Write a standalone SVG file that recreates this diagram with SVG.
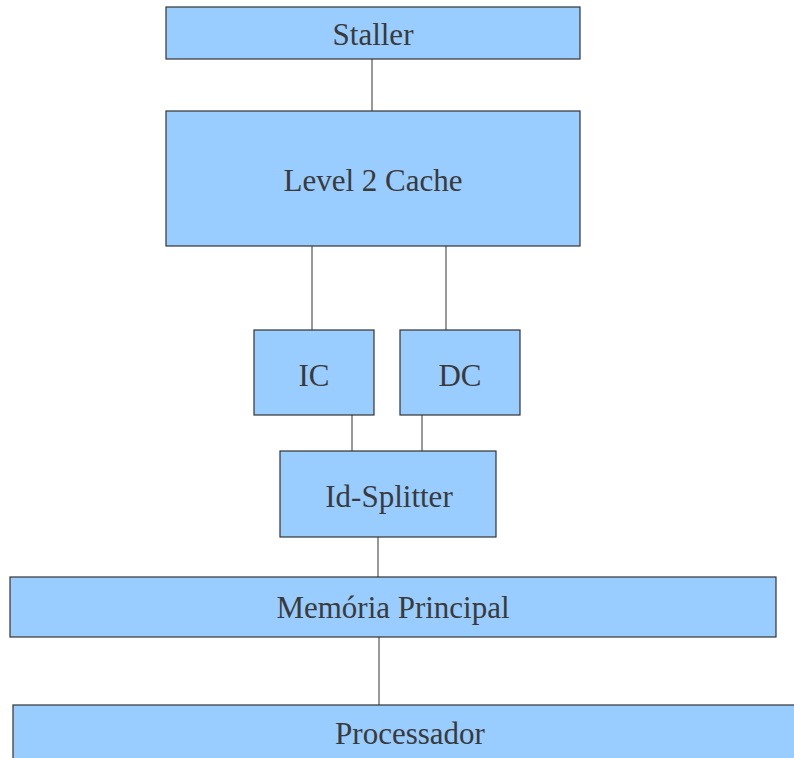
<svg xmlns="http://www.w3.org/2000/svg" width="794" height="758" viewBox="0 0 794 758">
<style>
.box{fill:#99ccff;stroke:#333333;stroke-width:1.2}
.lbl{font-family:"Liberation Serif","Times New Roman",serif;font-size:31px;fill:#3a3a3a;text-anchor:middle}
.con{stroke:#555555;stroke-width:1.2;fill:none}
</style>
<rect width="794" height="758" fill="#ffffff"/>
<g id="connectors">
<line class="con" x1="372" y1="59" x2="372" y2="111"/>
<line class="con" x1="312" y1="246" x2="312" y2="330"/>
<line class="con" x1="446" y1="246" x2="446" y2="330"/>
<line class="con" x1="352" y1="415" x2="352" y2="451"/>
<line class="con" x1="422" y1="415" x2="422" y2="451"/>
<line class="con" x1="378" y1="537" x2="378" y2="577"/>
<line class="con" x1="379" y1="637" x2="379" y2="705"/>
</g>
<g id="staller">
<rect class="box" x="166" y="7" width="414" height="52"/>
<text class="lbl" x="373" y="45">Staller</text>
</g>
<g id="l2cache">
<rect class="box" x="166" y="111" width="414" height="135"/>
<text class="lbl" x="373" y="191">Level 2 Cache</text>
</g>
<g id="ic">
<rect class="box" x="254" y="330" width="120" height="85"/>
<text class="lbl" x="314" y="386">IC</text>
</g>
<g id="dc">
<rect class="box" x="400" y="330" width="120" height="85"/>
<text class="lbl" x="460" y="386">DC</text>
</g>
<g id="splitter">
<rect class="box" x="280" y="451" width="216" height="86"/>
<text class="lbl" x="389" y="507">Id-Splitter</text>
</g>
<g id="memoria">
<rect class="box" x="10" y="577" width="766" height="60"/>
<text class="lbl" x="393" y="618" textLength="233" lengthAdjust="spacingAndGlyphs">Memória Principal</text>
</g>
<g id="processador">
<rect class="box" x="13" y="705" width="790" height="60"/>
<text class="lbl" x="410" y="744">Processador</text>
</g>
</svg>
